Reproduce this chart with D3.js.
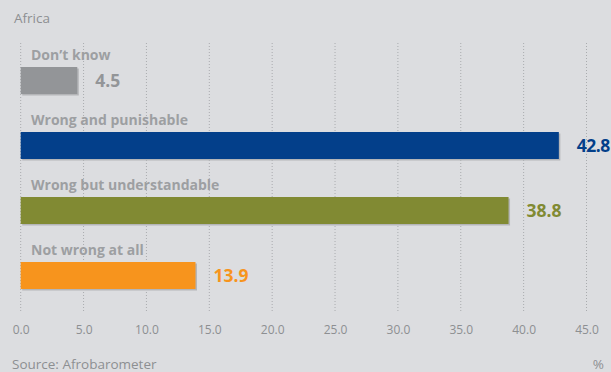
<!DOCTYPE html>
<html><head><meta charset="utf-8">
<script src="https://cdn.jsdelivr.net/npm/d3@7"></script>
<style>
html,body{margin:0;padding:0;background:#dcdde0;}
svg{display:block;font-family:"Open Sans","Noto Sans",sans-serif;}
</style></head>
<body>
<script>
const categories = ["Don\u2019t know","Wrong and punishable","Wrong but understandable","Not wrong at all"];
const values = [4.5, 42.8, 38.8, 13.9];
const colors = ["#939598","#033f8a","#818a33","#f7941d"];
const tickValues = [0,5,10,15,20,25,30,35,40,45];
const title = "Africa";
const source = "Source: Afrobarometer";
const unit = "%";

const W = 611, H = 372;
const svg = d3.select("body").append("svg").attr("width", W).attr("height", H);
svg.append("rect").attr("width", W).attr("height", H).attr("fill", "#dcdde0");

const x = d3.scaleLinear().domain([0,45]).range([20.7, 586.5]);
const y = d3.scaleBand().domain(categories).range([42, 302]).paddingInner(0).paddingOuter(0);

// gridlines
svg.append("g").selectAll("line").data(tickValues).join("line")
  .attr("x1", d => x(d)).attr("x2", d => x(d))
  .attr("y1", 43).attr("y2", 313)
  .attr("stroke", "#a9abae").attr("stroke-width", 1)
  .attr("stroke-dasharray", "1,2");

// axis labels
const axis = d3.axisBottom(x).tickValues(tickValues).tickFormat(d3.format(".1f")).tickSize(0);
const ag = svg.append("g").attr("transform", "translate(0,322)").call(axis);
ag.select(".domain").remove();
ag.selectAll("text").attr("fill", "#8d8f92").attr("font-size", 12).attr("dy", "0.71em")
  .attr("font-family", "'Open Sans','Noto Sans',sans-serif");

const barH = 27;
const bandOff = 25; // bar top offset within band

// shadows
svg.append("g").selectAll("rect").data(values).join("rect")
  .attr("x", x(0) + 1.5)
  .attr("y", (d,i) => y(categories[i]) + bandOff + 1.5)
  .attr("width", d => x(d) - x(0))
  .attr("height", barH)
  .attr("fill", "#b4b5b8");

// bars
svg.append("g").selectAll("rect").data(values).join("rect")
  .attr("x", x(0))
  .attr("y", (d,i) => y(categories[i]) + bandOff)
  .attr("width", d => x(d) - x(0))
  .attr("height", barH)
  .attr("fill", (d,i) => colors[i]);

// category labels
svg.append("g").selectAll("text").data(categories).join("text")
  .attr("x", 31)
  .attr("y", d => y(d) + 18)
  .attr("fill", "#9d9fa2")
  .attr("font-size", 14)
  .attr("font-weight", "bold")
  .text(d => d);

// value labels
svg.append("g").selectAll("text").data(values).join("text")
  .attr("x", d => x(d) + 18)
  .attr("y", (d,i) => y(categories[i]) + bandOff + barH/2)
  .attr("dy", "0.36em")
  .attr("fill", (d,i) => colors[i])
  .attr("font-size", 17.5)
  .attr("font-weight", "bold")
  .attr("letter-spacing", (d,i) => i===1 ? "-0.5px" : "0px")
  .text(d => d.toFixed(1));

svg.append("text").attr("x", 14).attr("y", 23).attr("fill", "#8d8f92")
  .attr("font-size", 13.5).text(title);
svg.append("text").attr("x", 12).attr("y", 369).attr("fill", "#8d8f92")
  .attr("font-size", 13.5).text(source);
svg.append("text").attr("x", 604).attr("y", 369).attr("text-anchor","end").attr("fill", "#8d8f92")
  .attr("font-size", 13.5).text(unit);
</script>
</body></html>
